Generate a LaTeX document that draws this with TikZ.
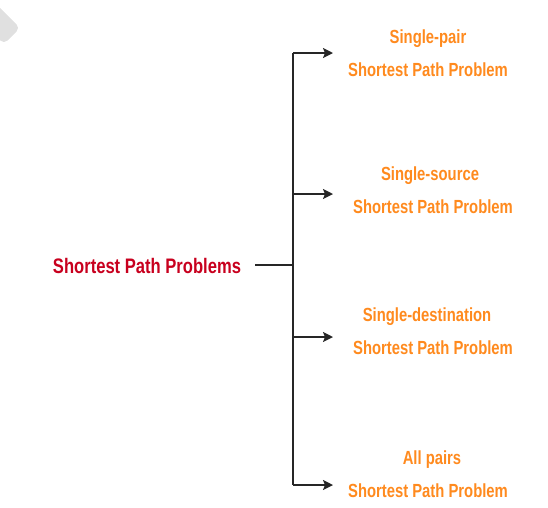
\documentclass[tikz,border=0pt]{standalone}
\usepackage{fontspec}
\setmainfont{Liberation Sans}
\newfontfamily\narr[FakeStretch=0.78]{Liberation Sans}
\newfontfamily\narrm[FakeStretch=0.79]{Liberation Sans}
\usetikzlibrary{arrows.meta}
\definecolor{mainred}{RGB}{200,0,30}
\definecolor{orng}{RGB}{255,138,30}
\definecolor{wm}{RGB}{224,224,224}
\begin{document}
\begin{tikzpicture}[x=1pt,y=-1pt,
  rootlbl/.style={font=\narrm\bfseries\fontsize{21}{24}\selectfont, text=mainred, inner sep=0pt, anchor=base},
  leaf/.style={font=\narr\bfseries\fontsize{19}{22}\selectfont, text=orng, inner sep=0pt, anchor=base},
  conn/.style={line width=1.6pt, draw=black!85},
  arr/.style={conn, -{Stealth[length=10pt,width=10pt,inset=2pt]}}]
\useasboundingbox (0,0) rectangle (548,507);
\begin{scope}
\clip (0,0) rectangle (548,507);
\fill[wm, rounded corners=5pt] (-22.3,-14.5) -- (20.1,27.9) -- (3.9,44.1) -- (-38.5,1.7) -- cycle;
\end{scope}

\node[rootlbl] (root) at (147,273.5) {Shortest Path Problems};

\coordinate (j) at (293,265);
\coordinate (top) at (293,53);
\coordinate (bot) at (293,485);
\coordinate (t1) at (333,53);
\coordinate (t2) at (333,194);
\coordinate (t3) at (333,337);
\coordinate (t4) at (333,485);

\draw[conn] ([xshift=14pt]root.east |- j) -- (j);
\draw[conn] (top) -- (bot);
\draw[arr] (top) -- (t1);
\draw[arr] (top |- t2) -- (t2);
\draw[arr] (top |- t3) -- (t3);
\draw[arr] (bot) -- (t4);

\node[leaf] (a1) at (428,43.8) {Single-pair};
\node[leaf] (a2) at (428,76.8) {Shortest Path Problem};
\node[leaf] (b1) at (430,180.8) {Single-source};
\node[leaf] (b2) at (433,213.8) {Shortest Path Problem};
\node[leaf] (c1) at (427,321.8) {Single-destination};
\node[leaf] (c2) at (433,354.8) {Shortest Path Problem};
\node[leaf] (d1) at (432,464.8) {All pairs};
\node[leaf] (d2) at (428,497.8) {Shortest Path Problem};
\end{tikzpicture}
\end{document}
